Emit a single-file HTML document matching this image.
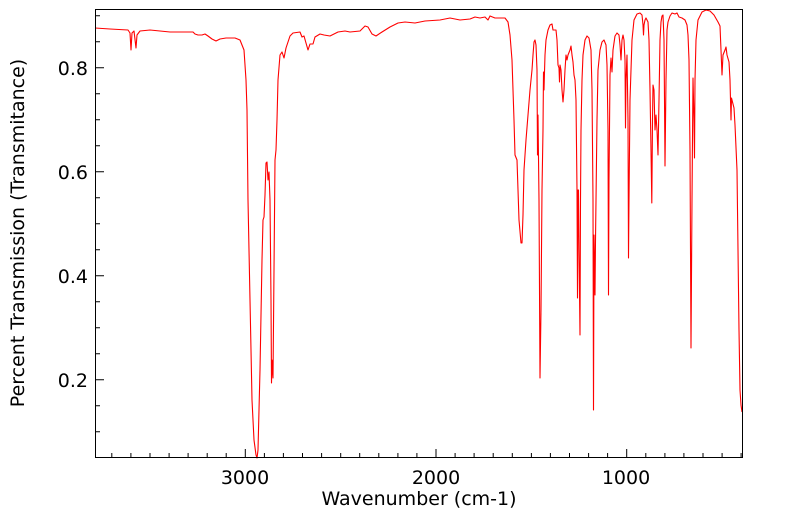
<!DOCTYPE html>
<html><head><meta charset="utf-8"><style>
html,body{margin:0;padding:0;background:#fff;}
svg{display:block;font-family:"DejaVu Sans","Liberation Sans",sans-serif;}
</style></head><body>
<svg width="799" height="516" viewBox="0 0 799 516" xmlns="http://www.w3.org/2000/svg">
<rect width="799" height="516" fill="#fff"/>
<polyline fill="none" stroke="#ff0000" stroke-width="1.1" stroke-linejoin="round" points="
95,28 110,29 128,30 130,33 131,50 132,33 134,31 136,48 137,35 140,31 150,30 160,31 170,32 180,32 190,32 193,32 195,34 198,35 202,35 205,34 208,36 212,39 216,41 220,39 226,38 232,38
235,38 240,40 244,50 246,80 247,110 248,200 250,300 252,400 254,440 256,455 257,458 258,450 260,370 262,260 263,220 264,217 265,195 266,163 267,162 268,180 269,172 270,200 271,300 271.5,383 272,360 273,378 274,270 275,160 276,150 277,120 278,80 280,55 282,52 284,58 286,48 290,36 293,33 300,32 302,37 304,36 308,50 310,44 313,44 315,37 320,34 324,35
330,36 338,32 345,31 350,32 360,31 365,26 368,27 372,34 376,36 382,32 390,27 398,23 405,22 415,23 425,21 440,20 450,18 455,19 460,20 470,19 475,17 480,18 485,17 488,20 490,16
495,18 505,18 508,22 510,35 512,60 514,120 515,155 517,160 518,190 519,220 521,243 522,243 523,215 524,170 526,140 528,115 530,90 532,70 533,55 534,42 535,40 536,45 537,70 537.5,155 538,115 539,200 540,378 541,310 542,190 543,130 543.5,72 544,90 544.5,72 545,55 546,40 548,30 550,25 552,24 553,30 556,30 557,40 558,65 559,68 559.5,82 560,65 561,70 562,90 563,102 564,90 565,70 566,55 567,60 568,55 570,50 571,46 572,55 573,62 574,75 575,80 576,100 577,190 577.5,298 578,190 578.5,190 579,250 580,335 580.5,200 581,130 582,80 583,55 585,40 587,36 589,38 591,50 592,90 593,200 593.5,410 594,235 595,295 595.5,240 596,200 597,120 598,70 600,50 602,42 604,40 606,45 607,65 608,130 608.5,295 609,180 610,75 611,58 612,72 613,50 615,36
617,33 619,35 620,45 621,60 622,40 623,35 624,40 625,60 625.5,128 626,80 627,55 628,120 628.5,258 629,200 630,100 632,40 634,20 637,14 640,13 642,15 643,25 643.5,35 644,25 645,20 646,18 648,22 649,40 650,90 651,150 651.8,203 652.5,120 653,85 654,90 655,130 656,115 657,130 658,155 659,100 660,40 661,22 662,16 663,15 664,40 664.5,100 665,166 666,80 667,30 668,22 670,16 672,13 675,14 677,13 679,17 682,18 685,20 687,25 688,35 689,60 690,150 691,348 692,200 693,78 694,120 694.5,158 695,80 696,40 698,20 702,12 706,10 710,11 714,15 718,22 720,26 721,50 722,75 723,55 725,50 726,47 727,55 729,62 730,80 731,120 731.5,98 732,100 734,108 735,125 737,170 738,250 739,330 740,390 741,405 742,412"/>
<g stroke="#000" stroke-width="1">
<path d="M111.8,457v-4M130.9,457v-4M150,457v-4M169.1,457v-4M188.1,457v-4M207.2,457v-4M226.2,457v-4M245.3,457v-8M264.4,457v-4M283.4,457v-4M302.5,457v-4M321.6,457v-4M340.7,457v-4M359.7,457v-4M378.8,457v-4M397.9,457v-4M416.9,457v-4M436,457v-8M455.1,457v-4M474.1,457v-4M493.2,457v-4M512.3,457v-4M531.4,457v-4M550.4,457v-4M569.5,457v-4M588.6,457v-4M607.6,457v-4M626.7,457v-8M645.8,457v-4M664.9,457v-4M683.9,457v-4M703,457v-4M722.1,457v-4M741.1,457v-4"/>
<path d="M96,15.7h4M96,41.7h4M96,67.7h8M96,93.7h4M96,119.7h4M96,145.7h4M96,171.7h8M96,197.7h4M96,223.7h4M96,249.7h4M96,275.7h8M96,301.7h4M96,327.7h4M96,353.7h4M96,379.7h8M96,405.7h4M96,431.7h4"/>
</g>
<rect x="95.5" y="9.5" width="647" height="448" fill="none" stroke="#000" stroke-width="1"/>
<g font-size="19" fill="#000">
<text x="88" y="75" text-anchor="end">0.8</text>
<text x="88" y="179" text-anchor="end">0.6</text>
<text x="88" y="283" text-anchor="end">0.4</text>
<text x="88" y="387" text-anchor="end">0.2</text>
<text x="245" y="484" text-anchor="middle">3000</text>
<text x="436" y="484" text-anchor="middle">2000</text>
<text x="626" y="484" text-anchor="middle">1000</text>
<text x="419" y="505" text-anchor="middle">Wavenumber (cm-1)</text>
<text transform="translate(24,233) rotate(-90)" text-anchor="middle">Percent Transmission (Transmitance)</text>
</g>
</svg>
</body></html>
